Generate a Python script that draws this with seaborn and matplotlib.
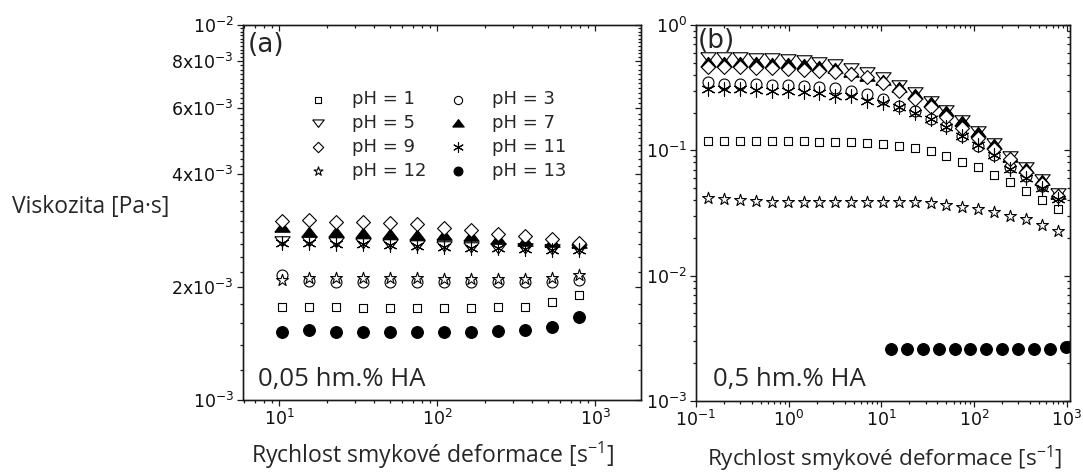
import matplotlib
matplotlib.use("Agg")
import matplotlib.pyplot as plt
from matplotlib import ticker
from matplotlib.markers import MarkerStyle
import numpy as np
import pandas as pd
import seaborn as sns

sns.set_theme(style="ticks")
plt.rcParams["font.family"] = ["DejaVu Sans"]
plt.rcParams["mathtext.default"] = "regular"
plt.rcParams["axes.linewidth"] = 0.9
plt.rcParams["axes.edgecolor"] = "#1a1a1a"

# Shear-rate steps [1/s]
rate_a = [10.4, 15.4, 22.8, 33.8, 50.2, 74.4, 110, 164, 243, 360, 535, 793]
rate_b = [0.136, 0.201, 0.299, 0.444, 0.658, 0.976, 1.45, 2.14, 3.18, 4.72, 7.00,
          10.4, 15.4, 22.8, 33.8, 50.2, 74.4, 110, 164, 243, 360, 535, 793]
rate_b_ph13 = [12.7, 18.8, 27.9, 41.4, 61.4, 91.0, 135, 200, 296, 440, 652, 966]

ph_values = [1, 3, 5, 7, 9, 11, 12, 13]

# (a) 0,05 hm.% HA -- viscosity in mPa.s
a_ph1 = [1.77, 1.77, 1.77, 1.76, 1.76, 1.76, 1.76, 1.76, 1.77, 1.77, 1.82, 1.90]
a_ph3 = [2.15, 2.08, 2.07, 2.07, 2.07, 2.07, 2.06, 2.06, 2.06, 2.06, 2.07, 2.09]
a_ph5 = [2.66, 2.66, 2.64, 2.62, 2.61, 2.59, 2.58, 2.56, 2.54, 2.54, 2.53, 2.53]
a_ph7 = [2.89, 2.81, 2.81, 2.79, 2.78, 2.76, 2.75, 2.73, 2.68, 2.66, 2.64, 2.62]
a_ph9 = [3.00, 3.02, 2.98, 2.98, 2.96, 2.94, 2.87, 2.84, 2.78, 2.73, 2.68, 2.63]
a_ph11 = [2.62, 2.62, 2.61, 2.61, 2.59, 2.58, 2.56, 2.54, 2.54, 2.53, 2.51, 2.51]
a_ph12 = [2.09, 2.11, 2.11, 2.11, 2.11, 2.11, 2.10, 2.10, 2.10, 2.10, 2.11, 2.15]
a_ph13 = [1.52, 1.54, 1.52, 1.52, 1.52, 1.52, 1.52, 1.52, 1.53, 1.54, 1.57, 1.66]

# (b) 0,5 hm.% HA -- viscosity in Pa.s
b_ph1 = [0.118, 0.118, 0.118, 0.118, 0.118, 0.118, 0.118, 0.117, 0.117, 0.116, 0.115,
         0.112, 0.108, 0.104, 0.098, 0.090, 0.081, 0.074, 0.064, 0.056, 0.047, 0.040, 0.034]
b_ph3 = [0.348, 0.337, 0.337, 0.337, 0.331, 0.331, 0.327, 0.323, 0.312, 0.298, 0.281,
         0.256, 0.225, 0.205, 0.177, 0.156, 0.129, 0.108, 0.091, 0.073, 0.062, 0.052, 0.043]
b_ph5 = [0.555, 0.555, 0.555, 0.550, 0.545, 0.540, 0.530, 0.510, 0.488, 0.453, 0.421,
         0.384, 0.331, 0.291, 0.248, 0.209, 0.174, 0.143, 0.115, 0.090, 0.073, 0.059, 0.046]
b_ph7 = [0.506, 0.506, 0.506, 0.506, 0.501, 0.497, 0.488, 0.470, 0.453, 0.421, 0.391,
         0.363, 0.319, 0.281, 0.242, 0.205, 0.171, 0.139, 0.112, 0.088, 0.072, 0.058, 0.0445]
b_ph9 = [0.459, 0.459, 0.459, 0.453, 0.450, 0.445, 0.439, 0.431, 0.418, 0.406, 0.382,
         0.344, 0.297, 0.256, 0.220, 0.183, 0.152, 0.126, 0.102, 0.085, 0.067, 0.054, 0.043]
b_ph11 = [0.308, 0.308, 0.308, 0.304, 0.298, 0.298, 0.293, 0.286, 0.272, 0.269, 0.248,
          0.238, 0.220, 0.198, 0.177, 0.154, 0.130, 0.110, 0.092, 0.071, 0.060, 0.050, 0.041]
b_ph12 = [0.0418, 0.0411, 0.0398, 0.0393, 0.0389, 0.0389, 0.0389, 0.0389, 0.0389, 0.0389, 0.0389,
          0.0389, 0.0389, 0.0389, 0.0382, 0.0365, 0.0354, 0.0342, 0.0323, 0.0302, 0.0281, 0.0256, 0.0226]
b_ph13 = [0.00258, 0.00259, 0.00259, 0.00259, 0.00259, 0.00259, 0.00259, 0.00259,
          0.00259, 0.00260, 0.00262, 0.00272]

series_a = {1: a_ph1, 3: a_ph3, 5: a_ph5, 7: a_ph7, 9: a_ph9, 11: a_ph11, 12: a_ph12, 13: a_ph13}
series_b = {1: b_ph1, 3: b_ph3, 5: b_ph5, 7: b_ph7, 9: b_ph9, 11: b_ph11, 12: b_ph12, 13: b_ph13}

frames = []
for ph, vals in series_a.items():
    frames.append(pd.DataFrame({"panel": "a", "pH": ph, "rate": rate_a,
                                "visc": np.asarray(vals) * 1e-3}))
for ph, vals in series_b.items():
    rates = rate_b_ph13 if ph == 13 else rate_b
    frames.append(pd.DataFrame({"panel": "b", "pH": ph, "rate": rates, "visc": vals}))
df = pd.concat(frames, ignore_index=True)

# flattened triangles, as in the original instrument software
tri_up = MarkerStyle([(-1, -0.62), (1, -0.62), (0, 0.68), (-1, -0.62)])
tri_down = MarkerStyle([(-1, 0.62), (1, 0.62), (0, -0.68), (-1, 0.62)])

styles = {
    1: dict(marker="s", fc="white", s=40),
    3: dict(marker="o", fc="white", s=62),
    5: dict(marker=tri_down, fc="white", s=121),
    7: dict(marker=tri_up, fc="black", s=121),
    9: dict(marker="D", fc="white", s=50),
    11: dict(marker=(6, 2, 0), fc="black", s=90),
    12: dict(marker="*", fc="white", s=80),
    13: dict(marker="o", fc="black", s=72),
}

fig = plt.figure(figsize=(10.83, 4.72), dpi=100)
ax_a = fig.add_axes([0.2244, 0.1525, 0.3675, 0.7945])
ax_b = fig.add_axes([0.6427, 0.1504, 0.3453, 0.7966])

handles = {}
for ax, panel in ((ax_a, "a"), (ax_b, "b")):
    sub = df[df["panel"] == panel]
    for ph in ph_values:
        st = styles[ph]
        d = sub[sub["pH"] == ph]
        line_art = not MarkerStyle(st["marker"]).is_filled()
        sns.scatterplot(data=d, x="rate", y="visc", ax=ax, marker=st["marker"],
                        s=st["s"], color="black", facecolor=st["fc"],
                        edgecolor=None if line_art else "black",
                        linewidth=0.8, legend=False, zorder=3)
        if panel == "a":
            handles[ph] = ax.collections[-1]
    ax.set_xscale("log")
    ax.set_yscale("log")
    ax.set_xlabel("")
    ax.set_ylabel("")

# axis ranges
ax_a.set_xlim(5.9, 1950)
ax_a.set_ylim(1e-3, 1e-2)
ax_b.set_xlim(0.1, 1080)
ax_b.set_ylim(1e-3, 1)

a_yticks = [1e-3, 2e-3, 4e-3, 6e-3, 8e-3, 1e-2]
a_yticklabels = [r"$10^{-3}$", r"$2x10^{-3}$", r"$4x10^{-3}$", r"$6x10^{-3}$",
                 r"$8x10^{-3}$", r"$10^{-2}$"]
a_yminor = [k * 1e-4 for k in range(12, 100, 2) if k % 20 != 0]


def log_major():
    return ticker.LogLocator(base=10, numticks=12)


def log_minor():
    return ticker.LogLocator(base=10, subs=np.arange(2, 10), numticks=60)


def y_locators(ax):
    if ax is ax_a:
        return ticker.FixedLocator(a_yticks), ticker.FixedLocator(a_yminor)
    return log_major(), log_minor()


tick_col = "#1a1a1a"
for ax in (ax_a, ax_b):
    # mirrored, inward-pointing ticks on the top and right edges
    top = ax.twiny()
    top.set_xscale("log")
    top.set_xlim(ax.get_xlim())
    top.xaxis.set_major_locator(log_major())
    top.xaxis.set_minor_locator(log_minor())
    top.tick_params(which="both", direction="in", top=True, bottom=False,
                    labeltop=False, labelbottom=False, color=tick_col, width=0.9)
    right = ax.twinx()
    right.set_yscale("log")
    right.set_ylim(ax.get_ylim())
    maj, mnr = y_locators(ax)
    right.yaxis.set_major_locator(maj)
    right.yaxis.set_minor_locator(mnr)
    right.tick_params(which="both", direction="in", right=True, left=False,
                      labelright=False, labelleft=False, color=tick_col, width=0.9)
    for sec in (top, right):
        sec.tick_params(which="major", length=4.5)
        sec.tick_params(which="minor", length=2.5)

    maj, mnr = y_locators(ax)
    ax.yaxis.set_major_locator(maj)
    ax.yaxis.set_minor_locator(mnr)
    ax.yaxis.set_minor_formatter(ticker.NullFormatter())
    ax.xaxis.set_major_locator(log_major())
    ax.xaxis.set_minor_locator(log_minor())
    ax.xaxis.set_minor_formatter(ticker.NullFormatter())
    ax.tick_params(which="both", direction="out", top=False, right=False,
                   labelsize=12.5, color=tick_col, labelcolor="#111", width=0.9, pad=2)
    ax.tick_params(which="major", length=4.5)
    ax.tick_params(which="minor", length=2.5)

ax_a.yaxis.set_major_formatter(ticker.FixedFormatter(a_yticklabels))

# legend (two columns, filled column-wise)
order = [1, 5, 9, 12, 3, 7, 11, 13]
ax_a.legend([handles[p] for p in order], [f"pH = {p}" for p in order],
            ncol=2, loc="upper left", bbox_to_anchor=(0.165, 0.826), frameon=False,
            fontsize=13, markerscale=0.75, handlelength=1.0, handletextpad=1.4,
            columnspacing=1.25, labelspacing=0.33, borderpad=0, borderaxespad=0,
            scatterpoints=1)

# panel tags and concentrations
ax_a.text(0.012, 0.947, "(a)", transform=ax_a.transAxes, fontsize=19,
          ha="left", va="center", zorder=5)
ax_b.text(0.004, 0.958, "(b)", transform=ax_b.transAxes, fontsize=19,
          ha="left", va="center", zorder=5)
label_font = "Open Sans"
ax_a.text(0.038, 0.037, "0,05 hm.% HA", transform=ax_a.transAxes,
          fontsize=18.5, family=label_font, ha="left", va="baseline")
ax_b.text(0.045, 0.040, "0,5 hm.% HA", transform=ax_b.transAxes,
          fontsize=18.5, family=label_font, ha="left", va="baseline")

xlabel = r"Rychlost smykové deformace [s$^{-1}$]"
ax_a.set_xlabel(xlabel, family=label_font, fontsize=16.6, va="baseline", ha="center")
ax_a.xaxis.set_label_coords(0.477, -0.168)
ax_b.set_xlabel(xlabel, family=label_font, fontsize=16.2, va="baseline", ha="center")
ax_b.xaxis.set_label_coords(0.505, -0.173)
ax_a.set_ylabel("Viskozita [Pa·s]", family=label_font, fontsize=16.5,
                rotation=0, ha="left", va="baseline")
ax_a.yaxis.set_label_coords(-0.580, 0.499)

fig.savefig("out.png", dpi=100)
